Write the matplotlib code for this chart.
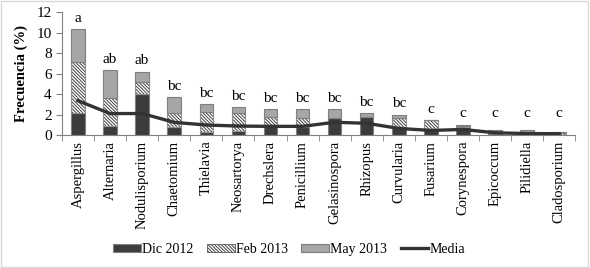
import matplotlib
matplotlib.use("Agg")
import matplotlib.pyplot as plt
import numpy as np
from matplotlib.patches import Rectangle

plt.rcParams['font.family'] = ['Liberation Serif', 'DejaVu Serif']
plt.rcParams['hatch.linewidth'] = 0.7

genera = ["Aspergillus", "Alternaria", "Nodulisporium", "Chaetomium", "Thielavia",
          "Neosartorya", "Drechslera", "Penicillium", "Gelasinospora", "Rhizopus",
          "Curvularia", "Fusarium", "Corynespora", "Epicoccum", "Pilidiella",
          "Cladosporium"]
dic2012 = [2.15, 0.85, 4.0, 0.8, 0.3, 0.4, 0.9, 0.8, 1.7, 1.75, 0.8, 0.6, 0.8, 0.0, 0.05, 0.0]
feb2013 = [5.0, 2.75, 1.2, 1.35, 1.95, 1.8, 0.85, 0.85, 0.0, 0.0, 0.9, 0.85, 0.05, 0.15, 0.0, 0.25]
may2013 = [3.2, 2.7, 1.0, 1.55, 0.75, 0.5, 0.8, 0.9, 0.8, 0.4, 0.3, 0.05, 0.18, 0.3, 0.4, 0.05]
media = [3.35, 2.1, 2.1, 1.24, 0.98, 0.88, 0.85, 0.85, 1.25, 1.15, 0.65, 0.45, 0.55, 0.22, 0.15, 0.13]
letters = ["a", "ab", "ab", "bc", "bc", "bc", "bc", "bc", "bc", "bc", "bc",
           "c", "c", "c", "c", "c"]

fig = plt.figure(figsize=(5.9, 2.68), dpi=100)
fig.patches.append(Rectangle((0.002, 0.004), 0.995, 0.992, transform=fig.transFigure,
                             fill=False, edgecolor='#d9d9d9', linewidth=1))
ax = fig.add_axes([0.105, 0.496, 0.870, 0.459])

x = np.arange(len(genera))
d = np.array(dic2012); f = np.array(feb2013); m = np.array(may2013)
w = 0.42
hatch = '\\' * 10
b1 = ax.bar(x, d, w, color='#3c3c3c', edgecolor='#808080', linewidth=0.8, label='Dic 2012', zorder=2)
b2 = ax.bar(x, f, w, bottom=d, color='white', edgecolor='#404040', hatch=hatch,
            linewidth=0.0, label='Feb 2013', zorder=2)
ax.bar(x, f, w, bottom=d, color='none', edgecolor='#909090', linewidth=0.8, zorder=2)
b3 = ax.bar(x, m, w, bottom=d + f, color='#a6a6a6', edgecolor='#7f7f7f', linewidth=0.8,
            label='May 2013', zorder=2)
ln, = ax.plot(x, media, color='#333333', linewidth=2.4, label='Media', zorder=3)

tot = d + f + m
for i, t in enumerate(letters):
    yy = max(tot[i] + 0.4, 1.5)
    ax.text(x[i], yy, t, ha='center', va='bottom', fontsize=11)

ax.set_xlim(-0.5, len(genera) - 0.5)
ax.set_ylim(0, 12)
ax.set_yticks([0, 2, 4, 6, 8, 10, 12])
ax.set_xticks(x)
ax.set_xticklabels(genera, rotation=90, fontsize=10.5)
ax.set_xticks(np.arange(-0.5, len(genera), 1), minor=True)
ax.tick_params(axis='x', which='major', length=0, pad=4)
ax.tick_params(axis='x', which='minor', length=4, color='#808080')
ax.tick_params(axis='y', length=4, color='#808080', labelsize=11)
for s in ['top', 'right']:
    ax.spines[s].set_visible(False)
for s in ['left', 'bottom']:
    ax.spines[s].set_color('#808080')
ax.set_ylabel('Frecuencia (%)', fontsize=10.5, fontweight='bold', labelpad=6)

legh = [Rectangle((0, 0), 1, 1, facecolor='#3c3c3c', edgecolor='#808080', linewidth=0.8),
        Rectangle((0, 0), 1, 1, facecolor='white', edgecolor='#404040', hatch=hatch, linewidth=0.5),
        Rectangle((0, 0), 1, 1, facecolor='#a6a6a6', edgecolor='#7f7f7f', linewidth=0.8),
        ln]
fig.legend(legh, ['Dic 2012', 'Feb 2013', 'May 2013', 'Media'],
           loc='center', bbox_to_anchor=(0.49, 0.07), ncol=4, frameon=False,
           fontsize=10, handlelength=2.0, handleheight=0.5, handletextpad=0.05,
           columnspacing=1.0)

fig.savefig('out.png', dpi=100)
